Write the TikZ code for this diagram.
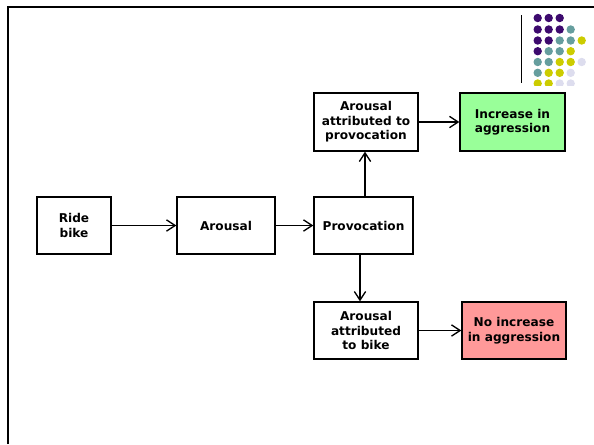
\documentclass[tikz,border=0pt]{standalone}
\usepackage{fontspec}
\setmainfont{DejaVu Sans}
\usetikzlibrary{arrows.meta}
\definecolor{dpurple}{HTML}{3D0A6E}
\definecolor{dteal}{HTML}{669E9E}
\definecolor{dyellow}{HTML}{CCCC00}
\definecolor{dlav}{HTML}{DDDDEE}
\definecolor{boxgreen}{HTML}{99FF99}
\definecolor{boxred}{HTML}{FF9999}
\begin{document}
\begin{tikzpicture}[x=0.75pt,y=-0.75pt,
  stepbox/.style={draw=black, line width=1pt, fill=white, align=center,
    inner sep=0pt, font=\fontsize{9.1}{10.8}\selectfont\bfseries},
  arr/.style={line width=1pt, -{Straight Barb[length=6.5pt,width=8.5pt,line width=1pt]}},
  dot/.style={circle, inner sep=0pt, minimum size=6.3pt}]
\useasboundingbox (0,0) rectangle (594,444);
% frame
\draw[line width=1.5pt] (7.5,444) -- (7.5,6.5) -- (594,6.5);
% decoration line and dots
\draw[line width=0.9pt] (521.7,15) -- (521.7,83);
\begin{scope}
\clip (525,0) rectangle (594,85);
\foreach \c [count=\i] in {dpurple,dpurple,dpurple}
  \node[dot,fill=\c] (r1d\i) at ({537.7+11*(\i-1)},18) {};
\foreach \c [count=\i] in {dpurple,dpurple,dpurple,dteal}
  \node[dot,fill=\c] (r2d\i) at ({537.7+11*(\i-1)},29.5) {};
\foreach \c [count=\i] in {dpurple,dpurple,dteal,dteal,dyellow}
  \node[dot,fill=\c] (r3d\i) at ({537.7+11*(\i-1)},40.5) {};
\foreach \c [count=\i] in {dpurple,dteal,dteal,dyellow}
  \node[dot,fill=\c] (r4d\i) at ({537.7+11*(\i-1)},51.2) {};
\foreach \c [count=\i] in {dteal,dteal,dyellow,dyellow,dlav}
  \node[dot,fill=\c] (r5d\i) at ({537.7+11*(\i-1)},62) {};
\foreach \c [count=\i] in {dteal,dyellow,dyellow,dlav}
  \node[dot,fill=\c] (r6d\i) at ({537.7+11*(\i-1)},72.8) {};
\foreach \c [count=\i] in {dyellow,dyellow,dlav,dlav}
  \node[dot,fill=\c] (r7d\i) at ({537.7+11*(\i-1)},83.5) {};
\end{scope}
% boxes
\node[stepbox, minimum width=55.5pt, minimum height=42.75pt] (ride) at (74,225.5) {Ride\\bike};
\node[stepbox, minimum width=73.5pt, minimum height=42.75pt] (arousal) at (226,225.5) {Arousal};
\node[stepbox, minimum width=74.25pt, minimum height=42.75pt] (prov) at (363.5,225.5) {Provocation};
\node[stepbox, minimum width=78pt, minimum height=43.5pt] (attprov) at (366,122) {Arousal\\attributed to\\provocation};
\node[stepbox, fill=boxgreen, minimum width=78.75pt, minimum height=43.5pt] (inc) at (512.5,122) {Increase in\\aggression};
\node[stepbox, minimum width=78pt, minimum height=42.75pt] (attbike) at (366,330.5) {Arousal\\attributed\\to bike};
\node[stepbox, fill=boxred, minimum width=78pt, minimum height=42.75pt] (noinc) at (514,330.5) {No increase\\in aggression};
% arrows
\draw[arr] (ride) -- (arousal);
\draw[arr] (arousal) -- (prov);
\draw[arr] (prov.north -| 365,0) -- (attprov.south -| 365,0);
\draw[arr] (prov.south -| 360,0) -- (attbike.north -| 360,0);
\draw[arr] (attprov) -- (inc);
\draw[arr] (attbike) -- (noinc);
\end{tikzpicture}
\end{document}
